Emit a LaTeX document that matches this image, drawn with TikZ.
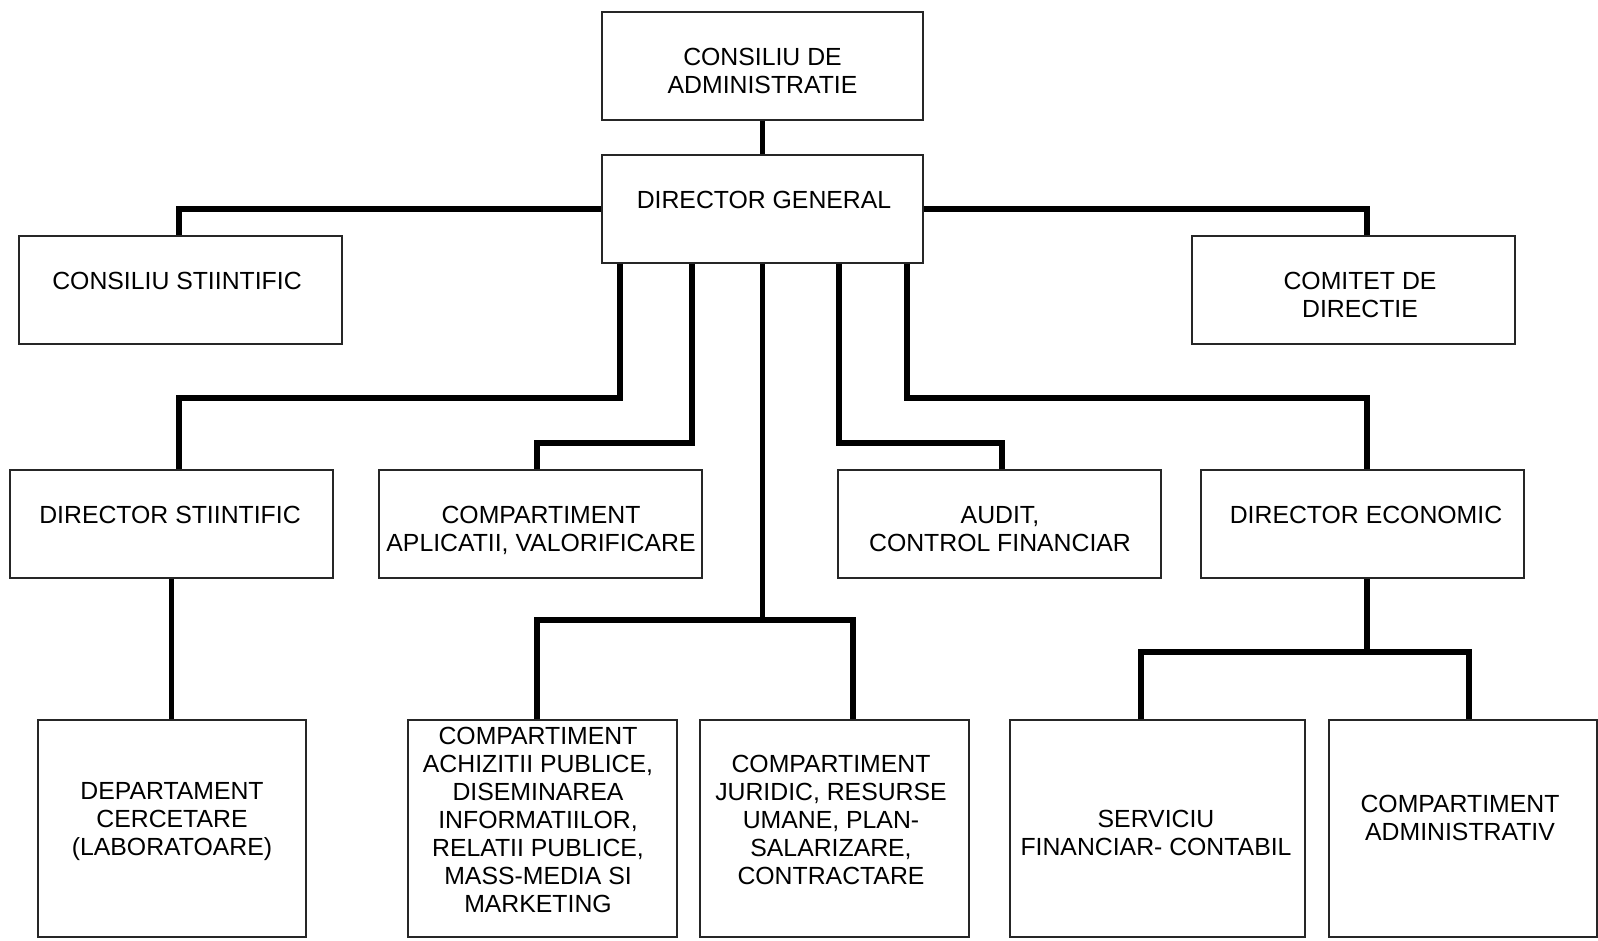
\documentclass[tikz,border=0pt]{standalone}
\usepackage{fontspec}
\setmainfont{Liberation Sans}
\begin{document}
\begin{tikzpicture}[x=1pt,y=-1pt,
  box/.style={draw=black!85, line width=1.3pt, inner sep=0pt, fill=white},
  lbl/.style={font=\fontsize{24.8}{28}\selectfont, align=center, inner sep=0pt, anchor=north, text=black},
  conn/.style={draw=black, line width=5.4pt, line join=miter},
  connthin/.style={draw=black, line width=4.2pt}]
\useasboundingbox (0,0) rectangle (1598,940);
% boxes
\node[box, minimum width=321pt, minimum height=108pt] (ca) at (762.5,66) {};
\node[box, minimum width=321pt, minimum height=108pt] (dg) at (762.5,209) {};
\node[box, minimum width=323pt, minimum height=108pt] (cs) at (180.5,290) {};
\node[box, minimum width=323pt, minimum height=108pt] (cd) at (1353.5,290) {};
\node[box, minimum width=323pt, minimum height=108pt] (ds) at (171.5,524) {};
\node[box, minimum width=323pt, minimum height=108pt] (cav) at (540.5,524) {};
\node[box, minimum width=323pt, minimum height=108pt] (aud) at (999.5,524) {};
\node[box, minimum width=323pt, minimum height=108pt] (de) at (1362.5,524) {};
\node[box, minimum width=268pt, minimum height=217pt] (dc) at (172,828.5) {};
\node[box, minimum width=269pt, minimum height=217pt] (ach) at (542.5,828.5) {};
\node[box, minimum width=269pt, minimum height=217pt] (jur) at (834.5,828.5) {};
\node[box, minimum width=295pt, minimum height=217pt] (sfc) at (1157.5,828.5) {};
\node[box, minimum width=268pt, minimum height=217pt] (cadm) at (1463,828.5) {};
% texts
\node[lbl] (caT) at (762.5,48) {CONSILIU DE\\ADMINISTRATIE};
\node[lbl] (dgT) at (764,191) {DIRECTOR GENERAL};
\node[lbl] (csT) at (177,272) {CONSILIU STIINTIFIC};
\node[lbl] (cdT) at (1360,272) {COMITET DE\\DIRECTIE};
\node[lbl] (dsT) at (170,506) {DIRECTOR STIINTIFIC};
\node[lbl] (cavT) at (541,506) {COMPARTIMENT\\APLICATII, VALORIFICARE};
\node[lbl] (audT) at (1000,506) {AUDIT,\\CONTROL FINANCIAR};
\node[lbl] (deT) at (1366,506) {DIRECTOR ECONOMIC};
\node[lbl] (dcT) at (172,782) {DEPARTAMENT\\CERCETARE\\(LABORATOARE)};
\node[lbl] (achT) at (538,727) {COMPARTIMENT\\ACHIZITII PUBLICE,\\DISEMINAREA\\INFORMATIILOR,\\RELATII PUBLICE,\\MASS-MEDIA SI\\MARKETING};
\node[lbl] (jurT) at (831,755) {COMPARTIMENT\\JURIDIC, RESURSE\\UMANE, PLAN-\\SALARIZARE,\\CONTRACTARE};
\node[lbl] (sfcT) at (1156,810) {SERVICIU\\FINANCIAR- CONTABIL};
\node[lbl] (cadmT) at (1460,795) {COMPARTIMENT\\ADMINISTRATIV};
% routing coordinates
\coordinate (xcs) at (179,209);
\coordinate (xcd) at (1367,209);
\coordinate (p1) at (620,0);
\coordinate (p2) at (692,0);
\coordinate (p4) at (839,0);
\coordinate (p5) at (907,0);
\coordinate (k1) at (179,398);
\coordinate (k2) at (537,443);
\coordinate (k3a) at (537,620);
\coordinate (k3b) at (853,620);
\coordinate (k4) at (1002,443);
\coordinate (k5) at (1367,398);
\coordinate (k6a) at (1141,652);
\coordinate (k6b) at (1469,652);
% connectors
\draw[connthin] (ca.south) -- (dg.north);
\draw[conn] (dg.west) -| (cs.north -| xcs);
\draw[conn] (dg.east) -| (cd.north -| xcd);
\draw[conn] (dg.south -| p1) |- (k1) -- (ds.north -| k1);
\draw[conn] (dg.south -| p2) |- (k2) -- (cav.north -| k2);
\draw[conn] (dg.south) -- (dg.south |- k3a);
\draw[conn] (ach.north -| k3a) -- (k3a) -- (k3b) -- (jur.north -| k3b);
\draw[conn] (dg.south -| p4) |- (k4) -- (aud.north -| k4);
\draw[conn] (dg.south -| p5) |- (k5) -- (de.north -| k5);
\draw[conn] (ds.south) -- (ds.south |- dc.north);
\draw[conn] (de.south -| k5) -- (k5 |- k6a);
\draw[conn] (sfc.north -| k6a) -- (k6a) -- (k6b) -- (cadm.north -| k6b);
\end{tikzpicture}
\end{document}
